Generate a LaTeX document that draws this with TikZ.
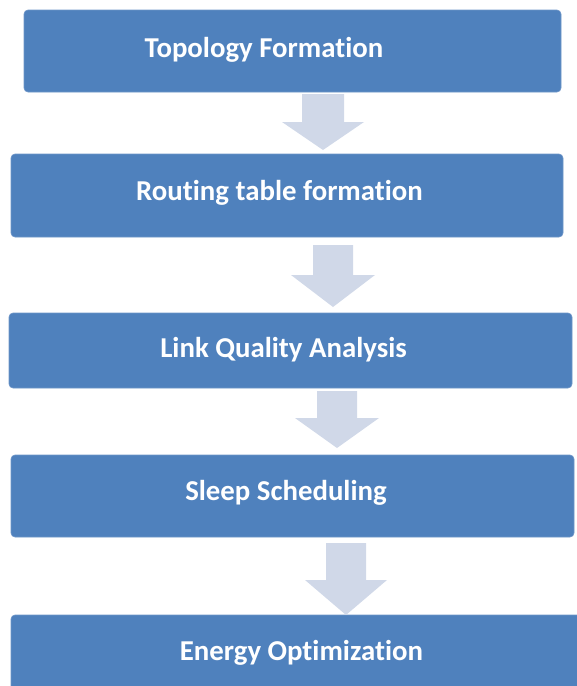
\documentclass[tikz,border=0pt]{standalone}
\usepackage{fontspec}
\setmainfont{Carlito}[Ligatures=NoCommon]
\definecolor{boxblue}{RGB}{79,129,189}
\definecolor{boxedge}{RGB}{110,150,200}
\definecolor{arrowfill}{RGB}{208,216,232}
\tikzset{
  stepbox/.style={draw=boxedge, line width=0.6pt, fill=boxblue, rounded corners=4pt, inner sep=0pt},
  steptext/.style={text=white, font=\fontsize{28.8}{32}\selectfont\bfseries, inner sep=0pt, anchor=center},
  blockarrow/.style={fill=arrowfill, draw=none}
}
\begin{document}
\begin{tikzpicture}[x=1pt,y=-1pt]
\useasboundingbox (0,0) rectangle (577,686);
% boxes
\node[stepbox, minimum width=537pt, minimum height=82pt] (b1) at (292.5,51) {};
\node[stepbox, minimum width=552pt, minimum height=83pt] (b2) at (287,195.5) {};
\node[stepbox, minimum width=563pt, minimum height=75pt] (b3) at (290.5,350.5) {};
\node[stepbox, minimum width=563pt, minimum height=82pt] (b4) at (292.5,496) {};
\node[stepbox, minimum width=570pt, minimum height=90pt] (b5) at (296,660) {};
% texts
\node[steptext] (t1) at (264,50) {Topology Formation};
\node[steptext] (t2) at (279.5,193) {Routing table formation};
\node[steptext] (t3) at (283.5,350) {Link Quality Analysis};
\node[steptext] (t4) at (286,493) {Sleep Scheduling};
\node[steptext] (t5) at (301.5,653) {Energy Optimization};
% block arrows
\newcommand{\blockarr}[6]{% cx, top, headbase, tip, halfshaft, halfhead
  \fill[blockarrow] (#1-#5,#2) -- (#1+#5,#2) -- (#1+#5,#3) -- (#1+#6,#3) -- (#1,#4) -- (#1-#6,#3) -- (#1-#5,#3) -- cycle;}
\blockarr{323}{94}{122}{150}{21}{41}
\blockarr{333}{245}{275}{307}{20}{42}
\blockarr{337}{391}{418}{448}{20}{42}
\blockarr{346}{543}{580}{615}{20}{41}
\end{tikzpicture}
\end{document}
